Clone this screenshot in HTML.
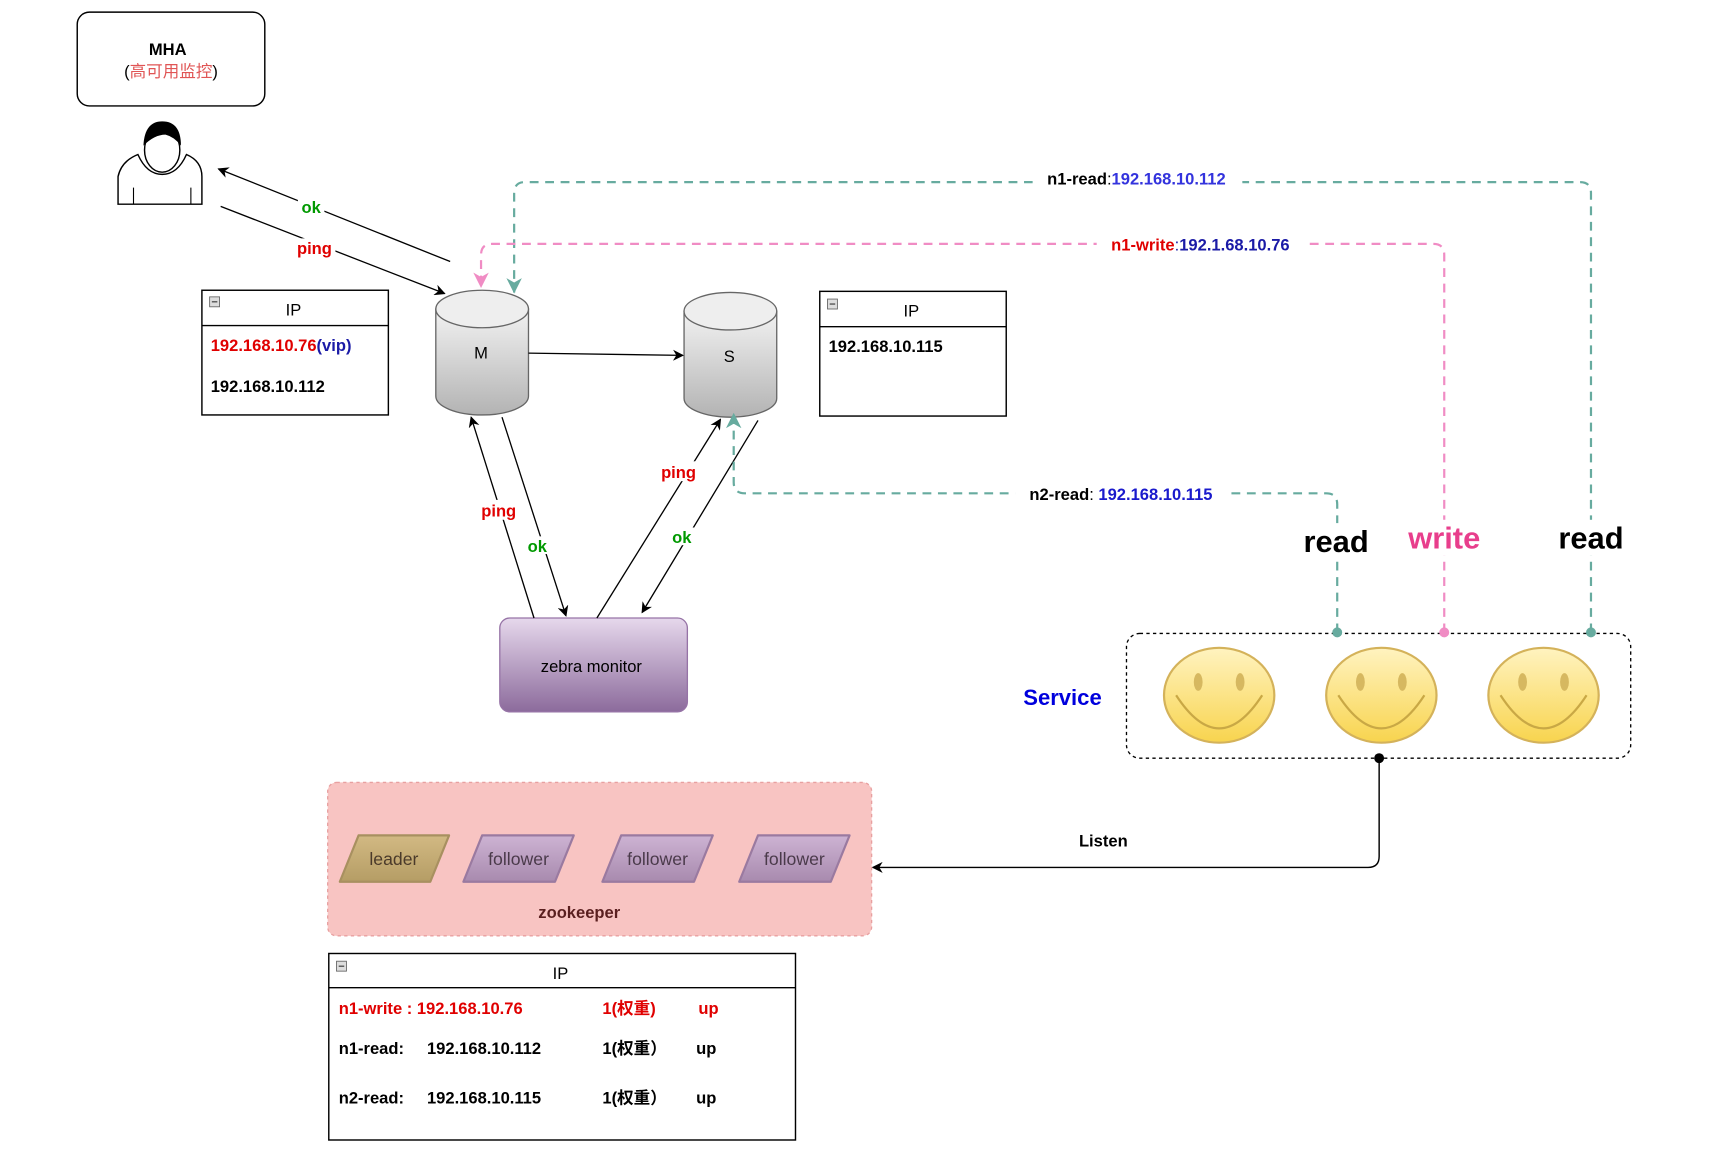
<!DOCTYPE html>
<html><head><meta charset="utf-8"><style>
html,body{margin:0;padding:0;background:#fff;width:1730px;height:1172px;overflow:hidden}
svg{display:block}
text{font-family:"Liberation Sans","Noto Sans CJK SC",sans-serif}
</style></head><body>
<svg width="1730" height="1172" viewBox="0 0 1568 1062" preserveAspectRatio="none" xmlns="http://www.w3.org/2000/svg">
<defs>
<marker id="ab" markerWidth="10" markerHeight="10" refX="9" refY="5" orient="auto" markerUnits="userSpaceOnUse"><path d="M0,0 L10,5 L0,10 L3,5 z" fill="#000"/></marker>
<marker id="at" markerWidth="14" markerHeight="14" refX="13" refY="7" orient="auto" markerUnits="userSpaceOnUse"><path d="M0,0 L14,7 L0,14 L4,7 z" fill="#67ab9f"/></marker>
<marker id="ap" markerWidth="14" markerHeight="14" refX="13" refY="7" orient="auto" markerUnits="userSpaceOnUse"><path d="M0,0 L14,7 L0,14 L4,7 z" fill="#f08cc4"/></marker>
<linearGradient id="cyl" x1="0" y1="0" x2="0" y2="1"><stop offset="0" stop-color="#f2f2f2"/><stop offset="1" stop-color="#b3b3b3"/></linearGradient>
<linearGradient id="mon" x1="0" y1="0" x2="0" y2="1"><stop offset="0" stop-color="#e6d8ec"/><stop offset="1" stop-color="#8c6b9c"/></linearGradient>
<linearGradient id="smile" x1="0" y1="0" x2="0" y2="1"><stop offset="0" stop-color="#fff3c0"/><stop offset="1" stop-color="#f8d44e"/></linearGradient>
<linearGradient id="leader" x1="0" y1="0" x2="0" y2="1"><stop offset="0" stop-color="#d2b983"/><stop offset="1" stop-color="#b59d65"/></linearGradient>
<linearGradient id="fol" x1="0" y1="0" x2="0" y2="1"><stop offset="0" stop-color="#cdb3d3"/><stop offset="1" stop-color="#a88aae"/></linearGradient>
</defs>

<rect x="70" y="11" width="170" height="85" rx="11" fill="#fff" stroke="#000" stroke-width="1.3"/>
<text x="152" y="50" font-size="15" font-weight="bold" text-anchor="middle">MHA</text>
<text x="155" y="70" font-size="15" text-anchor="middle"><tspan fill="#000">(</tspan><tspan fill="#e05555">高可用监控</tspan><tspan fill="#000">)</tspan></text>

<path d="M107,185 L107,160 Q110,146 125,140 Q133,158 147,158 Q161,158 169,140 Q183,146 183,160 L183,185 Z" fill="#fff" stroke="#000" stroke-width="1.3"/>
<ellipse cx="147" cy="136" rx="16" ry="20" fill="#fff" stroke="#000" stroke-width="1.3"/>
<path d="M130,132 Q131,110 147,110 Q164,110 164,132 Q158,124 150,122 Q140,122 130,132 Z" fill="#000"/>
<line x1="121" y1="170" x2="121" y2="185" stroke="#000"/><line x1="173" y1="170" x2="173" y2="185" stroke="#000"/>

<line x1="408" y1="237" x2="198" y2="153" stroke="#000" stroke-width="1.2" marker-end="url(#ab)"/>
<line x1="200" y1="187" x2="403" y2="266" stroke="#000" stroke-width="1.2" marker-end="url(#ab)"/>
<rect x="270" y="180" width="24" height="16" fill="#fff"/><text x="282" y="193" font-size="15" font-weight="bold" fill="#009900" text-anchor="middle">ok</text>
<rect x="266" y="216" width="38" height="18" fill="#fff"/><text x="285" y="230" font-size="15" font-weight="bold" fill="#e00000" text-anchor="middle">ping</text>

<rect x="183" y="263" width="169" height="113" fill="#fff" stroke="#000" stroke-width="1.3"/>
<line x1="183" y1="295" x2="352" y2="295" stroke="#000" stroke-width="1.3"/>
<rect x="190" y="269" width="9" height="9" fill="#ddd" stroke="#666" stroke-width="0.8"/><line x1="192" y1="273.5" x2="197" y2="273.5" stroke="#333"/>
<text x="266" y="286" font-size="15" text-anchor="middle">IP</text>
<text x="191" y="318" font-size="15" font-weight="bold"><tspan fill="#e00000">192.168.10.76</tspan><tspan fill="#1a1aa6">(vip)</tspan></text>
<text x="191" y="355" font-size="15" font-weight="bold">192.168.10.112</text>

<rect x="743" y="264" width="169" height="113" fill="#fff" stroke="#000" stroke-width="1.3"/>
<line x1="743" y1="296" x2="912" y2="296" stroke="#000" stroke-width="1.3"/>
<rect x="750" y="271" width="9" height="9" fill="#ddd" stroke="#666" stroke-width="0.8"/><line x1="752" y1="275.5" x2="757" y2="275.5" stroke="#333"/>
<text x="826" y="287" font-size="15" text-anchor="middle">IP</text>
<text x="751" y="319" font-size="15" font-weight="bold">192.168.10.115</text>

<path d="M395,280 L395,359 A42,17 0 0 0 479,359 L479,280 Z" fill="url(#cyl)" stroke="#666" stroke-width="1.2"/>
<ellipse cx="437" cy="280" rx="42" ry="17" fill="#eee" stroke="#666" stroke-width="1.2"/>
<text x="436" y="325" font-size="15" text-anchor="middle">M</text>
<path d="M620,282 L620,361 A42,17 0 0 0 704,361 L704,282 Z" fill="url(#cyl)" stroke="#666" stroke-width="1.2"/>
<ellipse cx="662" cy="282" rx="42" ry="17" fill="#eee" stroke="#666" stroke-width="1.2"/>
<text x="661" y="328" font-size="15" text-anchor="middle">S</text>
<line x1="479" y1="320" x2="619" y2="322" stroke="#000" stroke-width="1.2" marker-end="url(#ab)"/>

<rect x="453" y="560" width="170" height="85" rx="9" fill="url(#mon)" stroke="#9673a6" stroke-width="1.2"/>
<text x="536" y="609" font-size="15" text-anchor="middle">zebra monitor</text>
<line x1="484" y1="560" x2="427" y2="378" stroke="#000" stroke-width="1.2" marker-end="url(#ab)"/>
<line x1="455" y1="378" x2="513" y2="558" stroke="#000" stroke-width="1.2" marker-end="url(#ab)"/>
<line x1="541" y1="560" x2="653" y2="380" stroke="#000" stroke-width="1.2" marker-end="url(#ab)"/>
<line x1="687" y1="381" x2="582" y2="555" stroke="#000" stroke-width="1.2" marker-end="url(#ab)"/>
<rect x="433" y="453" width="38" height="18" fill="#fff"/><text x="452" y="468" font-size="15" font-weight="bold" fill="#e00000" text-anchor="middle">ping</text>
<rect x="476" y="486" width="22" height="16" fill="#fff"/><text x="487" y="500" font-size="15" font-weight="bold" fill="#009900" text-anchor="middle">ok</text>
<rect x="596" y="418" width="38" height="18" fill="#fff"/><text x="615" y="433" font-size="15" font-weight="bold" fill="#e00000" text-anchor="middle">ping</text>
<rect x="607" y="478" width="22" height="16" fill="#fff"/><text x="618" y="492" font-size="15" font-weight="bold" fill="#009900" text-anchor="middle">ok</text>

<path d="M1442,573 L1442,175 Q1442,165 1432,165 L476,165 Q466,165 466,175 L466,265" fill="none" stroke="#67ab9f" stroke-width="2" stroke-dasharray="8,6" marker-end="url(#at)"/>
<path d="M1309,573 L1309,231 Q1309,221 1299,221 L446,221 Q436,221 436,231 L436,260" fill="none" stroke="#f08cc4" stroke-width="2" stroke-dasharray="8,6" marker-end="url(#ap)"/>
<path d="M1212,573 L1212,457 Q1212,447 1202,447 L675,447 Q665,447 665,437 L665,375" fill="none" stroke="#67ab9f" stroke-width="2" stroke-dasharray="8,6" marker-end="url(#at)"/>
<rect x="936" y="151" width="190" height="20" fill="#fff"/>
<text x="1030" y="167" font-size="15" font-weight="bold" text-anchor="middle"><tspan fill="#000">n1-read</tspan><tspan fill="#000" font-weight="normal">:</tspan><tspan fill="#3333dd">192.168.10.112</tspan></text>
<rect x="994" y="211" width="190" height="20" fill="#fff"/>
<text x="1088" y="227" font-size="15" font-weight="bold" text-anchor="middle"><tspan fill="#e00000">n1-write</tspan><tspan fill="#1a1aa6" font-weight="normal">:</tspan><tspan fill="#1a1aa6">192.1.68.10.76</tspan></text>
<rect x="920" y="437" width="194" height="20" fill="#fff"/>
<text x="1016" y="453" font-size="15" font-weight="bold" text-anchor="middle"><tspan fill="#000">n2-read</tspan><tspan font-weight="normal">: </tspan><tspan fill="#1a1acc">192.168.10.115</tspan></text>

<rect x="1176" y="474" width="72" height="32" fill="#fff"/><text x="1211" y="500" font-size="28" font-weight="bold" text-anchor="middle">read</text>
<rect x="1270" y="471" width="80" height="32" fill="#fff"/><text x="1309" y="497" font-size="28" font-weight="bold" fill="#e83e8c" text-anchor="middle">write</text>
<rect x="1406" y="471" width="72" height="32" fill="#fff"/><text x="1442" y="497" font-size="28" font-weight="bold" text-anchor="middle">read</text>

<rect x="1021" y="574" width="457" height="113" rx="12" fill="none" stroke="#000" stroke-width="1.2" stroke-dasharray="3,3"/>
<text x="963" y="639" font-size="20" font-weight="bold" fill="#0000dd" text-anchor="middle">Service</text>
<g stroke="#d4b25a" stroke-width="2">
<ellipse cx="1105" cy="630" rx="50" ry="43" fill="url(#smile)"/>
<ellipse cx="1252" cy="630" rx="50" ry="43" fill="url(#smile)"/>
<ellipse cx="1399" cy="630" rx="50" ry="43" fill="url(#smile)"/>
</g>
<g fill="#d6b860" stroke="none">
<ellipse cx="1086" cy="618" rx="4" ry="8"/><ellipse cx="1124" cy="618" rx="4" ry="8"/>
<ellipse cx="1233" cy="618" rx="4" ry="8"/><ellipse cx="1271" cy="618" rx="4" ry="8"/>
<ellipse cx="1380" cy="618" rx="4" ry="8"/><ellipse cx="1418" cy="618" rx="4" ry="8"/>
</g>
<g fill="none" stroke="#c9a845" stroke-width="2">
<path d="M1066,630 Q1105,690 1144,630"/><path d="M1213,630 Q1252,690 1291,630"/><path d="M1360,630 Q1399,690 1438,630"/>
</g>
<circle cx="1212" cy="573" r="4.5" fill="#67ab9f"/>
<circle cx="1309" cy="573" r="4.5" fill="#f08cc4"/>
<circle cx="1442" cy="573" r="4.5" fill="#67ab9f"/>
<circle cx="1250" cy="687" r="4.5" fill="#000"/>

<path d="M1250,687 L1250,776 Q1250,786 1240,786 L791,786" fill="none" stroke="#000" stroke-width="1.3" marker-end="url(#ab)"/>
<text x="1000" y="767" font-size="15" font-weight="bold" text-anchor="middle">Listen</text>

<rect x="297" y="709" width="493" height="139" rx="8" fill="#f8c4c2" stroke="#e8a0a0" stroke-width="1.2" stroke-dasharray="3,3"/>
<polygon points="325,757 407,757 390,799 308,799" fill="url(#leader)" stroke="#a89060" stroke-width="2" stroke-linejoin="round"/>
<text x="357" y="784" font-size="16" fill="#4a3a2a" text-anchor="middle">leader</text>
<polygon points="437,757 520,757 503,799 420,799" fill="url(#fol)" stroke="#9a7aa0" stroke-width="2" stroke-linejoin="round"/>
<text x="470" y="784" font-size="16" fill="#4a3a4a" text-anchor="middle">follower</text>
<polygon points="563,757 646,757 629,799 546,799" fill="url(#fol)" stroke="#9a7aa0" stroke-width="2" stroke-linejoin="round"/>
<text x="596" y="784" font-size="16" fill="#4a3a4a" text-anchor="middle">follower</text>
<polygon points="687,757 770,757 753,799 670,799" fill="url(#fol)" stroke="#9a7aa0" stroke-width="2" stroke-linejoin="round"/>
<text x="720" y="784" font-size="16" fill="#4a3a4a" text-anchor="middle">follower</text>
<text x="525" y="832" font-size="15" font-weight="bold" fill="#5a1f1f" text-anchor="middle">zookeeper</text>

<rect x="298" y="864" width="423" height="169" fill="#fff" stroke="#000" stroke-width="1.3"/>
<line x1="298" y1="895" x2="721" y2="895" stroke="#000" stroke-width="1.3"/>
<rect x="305" y="871" width="9" height="9" fill="#ddd" stroke="#666" stroke-width="0.8"/><line x1="307" y1="875.5" x2="312" y2="875.5" stroke="#333"/>
<text x="508" y="887" font-size="15" text-anchor="middle">IP</text>
<g font-size="15" font-weight="bold">
<text x="307" y="919" fill="#e00000">n1-write : 192.168.10.76</text><text x="546" y="919" fill="#e00000">1(权重)</text><text x="633" y="919" fill="#e00000">up</text>
<text x="307" y="955">n1-read:</text><text x="387" y="955">192.168.10.112</text><text x="546" y="955">1(权重）</text><text x="631" y="955">up</text>
<text x="307" y="1000">n2-read:</text><text x="387" y="1000">192.168.10.115</text><text x="546" y="1000">1(权重）</text><text x="631" y="1000">up</text>
</g>
</svg>
</body></html>
